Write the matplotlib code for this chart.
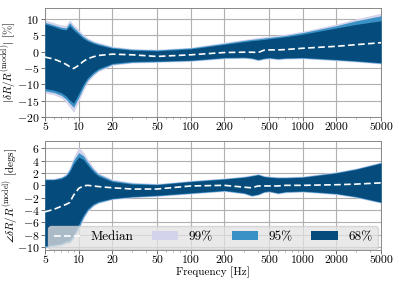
import numpy as np
import matplotlib
matplotlib.use('Agg')
import matplotlib.pyplot as plt
from matplotlib.patches import Patch
from matplotlib.lines import Line2D

# フォント設定（Computer Modern 風）
plt.rcParams['font.family'] = 'serif'
plt.rcParams['font.serif'] = ['cmr10']
plt.rcParams['mathtext.fontset'] = 'cm'
plt.rcParams['axes.formatter.use_mathtext'] = True
plt.rcParams['axes.unicode_minus'] = True

# 周波数 [Hz]
freq = [5, 6, 7, 7.7, 8.3, 9, 10, 11, 12, 13.5, 15, 20, 30, 50, 100, 200, 300,
        350, 400, 450, 500, 600, 700, 1000, 2000, 3000, 5000]

# 振幅 [%]
amp_median = [-1.7, -2.3, -3.2, -3.9, -4.6, -5.2, -4.2, -3.0, -2.2, -1.6, -1.2, -0.8, -1.0,
              -1.5, -1.0, -0.3, -0.2, -0.2, -0.3, 0.4, 0.5, 0.5, 0.6, 1.0, 1.6, 2.1, 2.7]
amp_up68 = [8.4, 7.6, 6.8, 6.6, 7.9, 6.6, 5.2, 4.0, 3.2, 2.5, 2.0, 1.0, 0.4, 0.2, 0.8, 2.2,
            3.0, 3.3, 3.5, 3.7, 3.9, 4.2, 4.5, 5.3, 7.2, 8.3, 9.4]
amp_up95 = [8.9, 8.1, 7.4, 7.2, 8.8, 7.4, 5.9, 4.6, 3.7, 2.9, 2.4, 1.3, 0.7, 0.5, 1.1, 2.5,
            3.4, 3.7, 3.9, 4.1, 4.3, 4.6, 4.9, 5.8, 7.9, 9.4, 10.9]
amp_up99 = [9.6, 8.8, 8.1, 8.0, 9.6, 8.2, 6.7, 5.2, 4.2, 3.3, 2.8, 1.6, 0.9, 0.7, 1.3, 2.8,
            3.7, 4.0, 4.3, 4.5, 4.7, 5.0, 5.3, 6.2, 8.4, 10.0, 11.7]
amp_lo68 = [-11.3, -11.8, -12.6, -13.6, -14.8, -15.8, -12.8, -10.0, -8.0, -6.3, -5.2, -3.6,
            -3.0, -2.9, -2.6, -1.8, -1.7, -1.9, -2.4, -2.0, -1.8, -2.1, -1.9, -1.8, -2.4,
            -2.8, -3.4]
amp_lo95 = [-12.0, -12.5, -13.4, -14.5, -15.8, -17.0, -14.0, -11.0, -8.7, -6.9, -5.7, -3.9,
            -3.3, -3.1, -2.8, -2.0, -1.9, -2.1, -2.6, -2.2, -2.0, -2.3, -2.1, -2.0, -2.6,
            -3.0, -3.6]
amp_lo99 = [-12.7, -13.2, -14.2, -15.5, -17.0, -18.5, -15.2, -11.9, -9.4, -7.4, -6.1, -4.2,
            -3.5, -3.3, -3.0, -2.2, -2.1, -2.3, -2.8, -2.4, -2.2, -2.5, -2.3, -2.2, -2.8,
            -3.2, -3.8]

# 位相 [degs]
ph_median = [-4.3, -3.9, -3.4, -3.1, -2.8, -1.6, -0.5, -0.1, 0.0, -0.1, -0.2, -0.4, -0.6,
             -0.6, -0.1, 0.0, -0.3, -0.4, -0.1, -0.1, -0.1, -0.1, 0.0, 0.0, 0.1, 0.2, 0.4]
ph_up68 = [0.9, 0.9, 1.1, 1.5, 2.2, 3.5, 4.6, 4.2, 3.3, 2.2, 1.5, 0.6, 0.2, 0.1, 0.6, 1.0,
           1.3, 1.5, 1.7, 1.4, 1.3, 1.2, 1.2, 1.3, 2.0, 2.6, 3.6]
ph_up95 = [1.0, 1.0, 1.3, 1.7, 2.6, 4.1, 5.3, 4.8, 3.8, 2.6, 1.8, 0.8, 0.35, 0.2, 0.7, 1.1,
           1.4, 1.6, 1.8, 1.5, 1.4, 1.3, 1.3, 1.4, 2.1, 2.7, 3.7]
ph_up99 = [1.1, 1.1, 1.4, 1.9, 2.9, 4.6, 6.2, 5.4, 4.3, 2.9, 2.0, 1.0, 0.5, 0.3, 0.8, 1.2,
           1.5, 1.7, 1.9, 1.6, 1.5, 1.4, 1.4, 1.5, 2.2, 2.8, 3.8]
ph_lo68 = [-9.8, -9.6, -9.4, -9.0, -8.9, -8.0, -6.3, -4.8, -3.8, -3.0, -2.6, -2.1, -1.8,
           -1.6, -1.2, -0.8, -1.2, -1.6, -1.4, -1.0, -0.9, -1.2, -1.0, -0.9, -1.3, -1.8, -2.7]
ph_lo95 = [-10.0, -9.8, -9.6, -9.3, -9.2, -8.4, -6.9, -5.2, -4.1, -3.2, -2.8, -2.2, -1.9,
           -1.7, -1.3, -0.9, -1.3, -1.7, -1.5, -1.1, -1.0, -1.3, -1.1, -1.0, -1.4, -1.9, -2.8]
ph_lo99 = [-10.2, -10.0, -9.8, -9.5, -9.4, -8.7, -7.3, -5.5, -4.3, -3.4, -2.9, -2.3, -2.0,
           -1.8, -1.4, -1.0, -1.4, -1.8, -1.6, -1.2, -1.1, -1.4, -1.2, -1.1, -1.5, -2.0, -2.9]

xticks = [5, 10, 20, 50, 100, 200, 500, 1000, 2000, 5000]
amp_yticks = [-20, -15, -10, -5, 0, 5, 10]
ph_yticks = [-10, -8, -6, -4, -2, 0, 2, 4, 6]

c99 = '#d3d3ec'
c95 = '#3a91c5'
c68 = '#054b7b'

fig = plt.figure(figsize=(3.99, 2.84), dpi=100)
W, H = 399.0, 284.0
ax1 = fig.add_axes([45 / W, 1 - 117 / H, 336 / W, 109 / H])
ax2 = fig.add_axes([45 / W, 1 - 250 / H, 336 / W, 109 / H])

panels = [
    (ax1, amp_median, amp_lo99, amp_up99, amp_lo95, amp_up95, amp_lo68, amp_up68),
    (ax2, ph_median, ph_lo99, ph_up99, ph_lo95, ph_up95, ph_lo68, ph_up68),
]

for ax, med, lo99, up99, lo95, up95, lo68, up68 in panels:
    ax.fill_between(freq, lo99, up99, color=c99, lw=0, zorder=2)
    ax.fill_between(freq, lo95, up95, color=c95, lw=0, zorder=3)
    ax.fill_between(freq, lo68, up68, color=c68, lw=0, zorder=4)
    ax.plot(freq, med, color='white', ls=(0, (4, 2)), lw=1.2, zorder=5)
    ax.set_xscale('log')
    ax.set_xlim(5, 5000)
    ax.set_xticks(xticks)
    ax.set_xticklabels([str(t) for t in xticks])
    ax.grid(True, which='major', color='#b0b0b0', lw=0.8, zorder=0)
    ax.set_axisbelow(True)
    ax.tick_params(labelsize=8.5, length=3, width=0.6, color='#555555', pad=1)
    ax.tick_params(which='minor', length=1.5, width=0.4, color='#777777')
    for sp in ax.spines.values():
        sp.set_color('#888888')
        sp.set_linewidth(0.7)

ax1.set_ylim(-20, 13.3)
ax1.set_yticks(amp_yticks)
ax1.set_ylabel(r'$|\delta R/R^{({\rm model})}|$ [%]', fontsize=8)
ax1.yaxis.set_label_coords(-0.079, 0.5)

ax2.set_ylim(-10.5, 7.2)
ax2.set_yticks(ph_yticks)
ax2.set_ylabel(r'$\angle\delta R/R^{({\rm model})}$ [degs]', fontsize=8)
ax2.yaxis.set_label_coords(-0.074, 0.5)
ax2.set_xlabel('Frequency [Hz]', fontsize=8, labelpad=1)

# 凡例
handles = [
    Line2D([0], [0], color='white', ls=(0, (4, 2)), lw=1.2),
    Patch(facecolor=c99, edgecolor='none'),
    Patch(facecolor=c95, edgecolor='none'),
    Patch(facecolor=c68, edgecolor='none'),
]
labels = ['Median', '99%', '95%', '68%']
leg = ax2.legend(handles, labels, loc='lower center', ncol=4, fontsize=9.5,
                 frameon=True, fancybox=True, facecolor='#e2e2e2', edgecolor='#cccccc',
                 framealpha=0.75, handlelength=2.0, handletextpad=0.8,
                 columnspacing=1.4, borderaxespad=0.1)
leg.set_zorder(10)

fig.savefig('out.png', dpi=100)
